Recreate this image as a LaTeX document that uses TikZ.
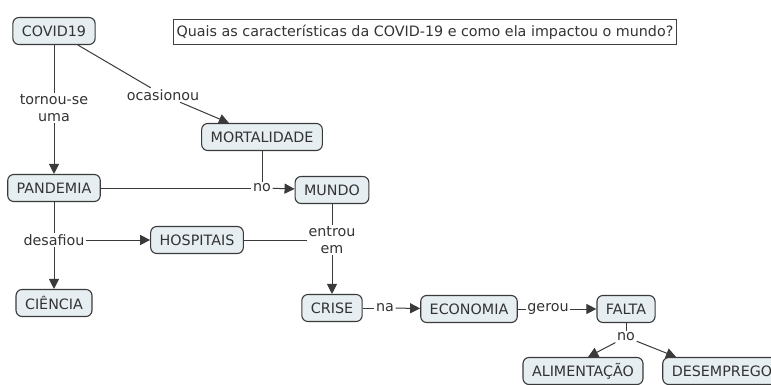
\documentclass[tikz,border=0pt]{standalone}
\usepackage{fontspec}
\setmainfont{DejaVu Sans}
\usetikzlibrary{arrows.meta}
\definecolor{cmapfill}{HTML}{E6EEF2}
\definecolor{cmapline}{HTML}{3A3A3A}
\begin{document}
\begin{tikzpicture}[x=1pt,y=-1pt,
  font=\fontsize{14.3}{17}\selectfont, text=black!80,
  concept/.style={draw=cmapline,fill=cmapfill,rounded corners=6pt,line width=1.1pt,
    minimum height=27pt,inner xsep=9pt},
  phrase/.style={fill=white,inner sep=1.5pt,align=center},
  link/.style={draw=cmapline,line width=1pt},
  arr/.style={link,-{Triangle[length=10pt,width=10pt]}}]
 \useasboundingbox (0,0) rectangle (771,385);
 \node[draw=black!75,line width=0.9pt,minimum height=25pt,inner xsep=3pt] (titulo) at (425,32)
   {Quais as características da COVID-19 e como ela impactou o mundo?};
 \node[concept] (covid) at (54,31) {COVID19};
 \node[phrase] (tornou) at (54,108) {tornou-se\\uma};
 \node[concept] (pandemia) at (54,188) {PANDEMIA};
 \node[phrase] (ocasionou) at (163,95) {ocasionou};
 \node[concept] (mortal) at (262,137) {MORTALIDADE};
 \node[phrase] (no1) at (262,188) {no};
 \node[concept] (mundo) at (332,190) {MUNDO};
 \node[phrase] (desafiou) at (54,240) {desafiou};
 \node[concept] (hospitais) at (197,240) {HOSPITAIS};
 \node[concept] (ciencia) at (54,303) {CIÊNCIA};
 \node[phrase] (entrou) at (332,240) {entrou\\em};
 \node[concept] (crise) at (332,308) {CRISE};
 \node[phrase] (na) at (385,308) {na};
 \node[concept] (economia) at (469,309) {ECONOMIA};
 \node[phrase] (gerou) at (548,309) {gerou};
 \node[concept] (falta) at (626,309) {FALTA};
 \node[phrase] (no2) at (626,337) {no};
 \node[concept] (alim) at (583,371) {ALIMENTAÇÃO};
 \node[concept] (desemp) at (722,371) {DESEMPREGO};
 \draw[link] (covid) -- (tornou);
 \draw[arr] (tornou) -- (pandemia);
 \draw[link] (covid) -- (ocasionou);
 \draw[arr] (ocasionou) -- (mortal);
 \draw[link] (pandemia) -- (no1);
 \draw[link] (mortal) -- (no1);
 \draw[arr] (no1) -- (mundo);
 \draw[link] (pandemia) -- (desafiou);
 \draw[arr] (desafiou) -- (hospitais);
 \draw[arr] (desafiou) -- (ciencia);
 \draw[link] (mundo) -- (entrou);
 \draw[link] (hospitais) -- (entrou);
 \draw[arr] (entrou) -- (crise);
 \draw[link] (crise) -- (na);
 \draw[arr] (na) -- (economia);
 \draw[link] (economia) -- (gerou);
 \draw[arr] (gerou) -- (falta);
 \draw[link] (falta) -- (no2);
 \draw[arr] (no2) -- (alim.70);
 \draw[arr] (no2) -- (desemp.163);
\end{tikzpicture}
\end{document}
